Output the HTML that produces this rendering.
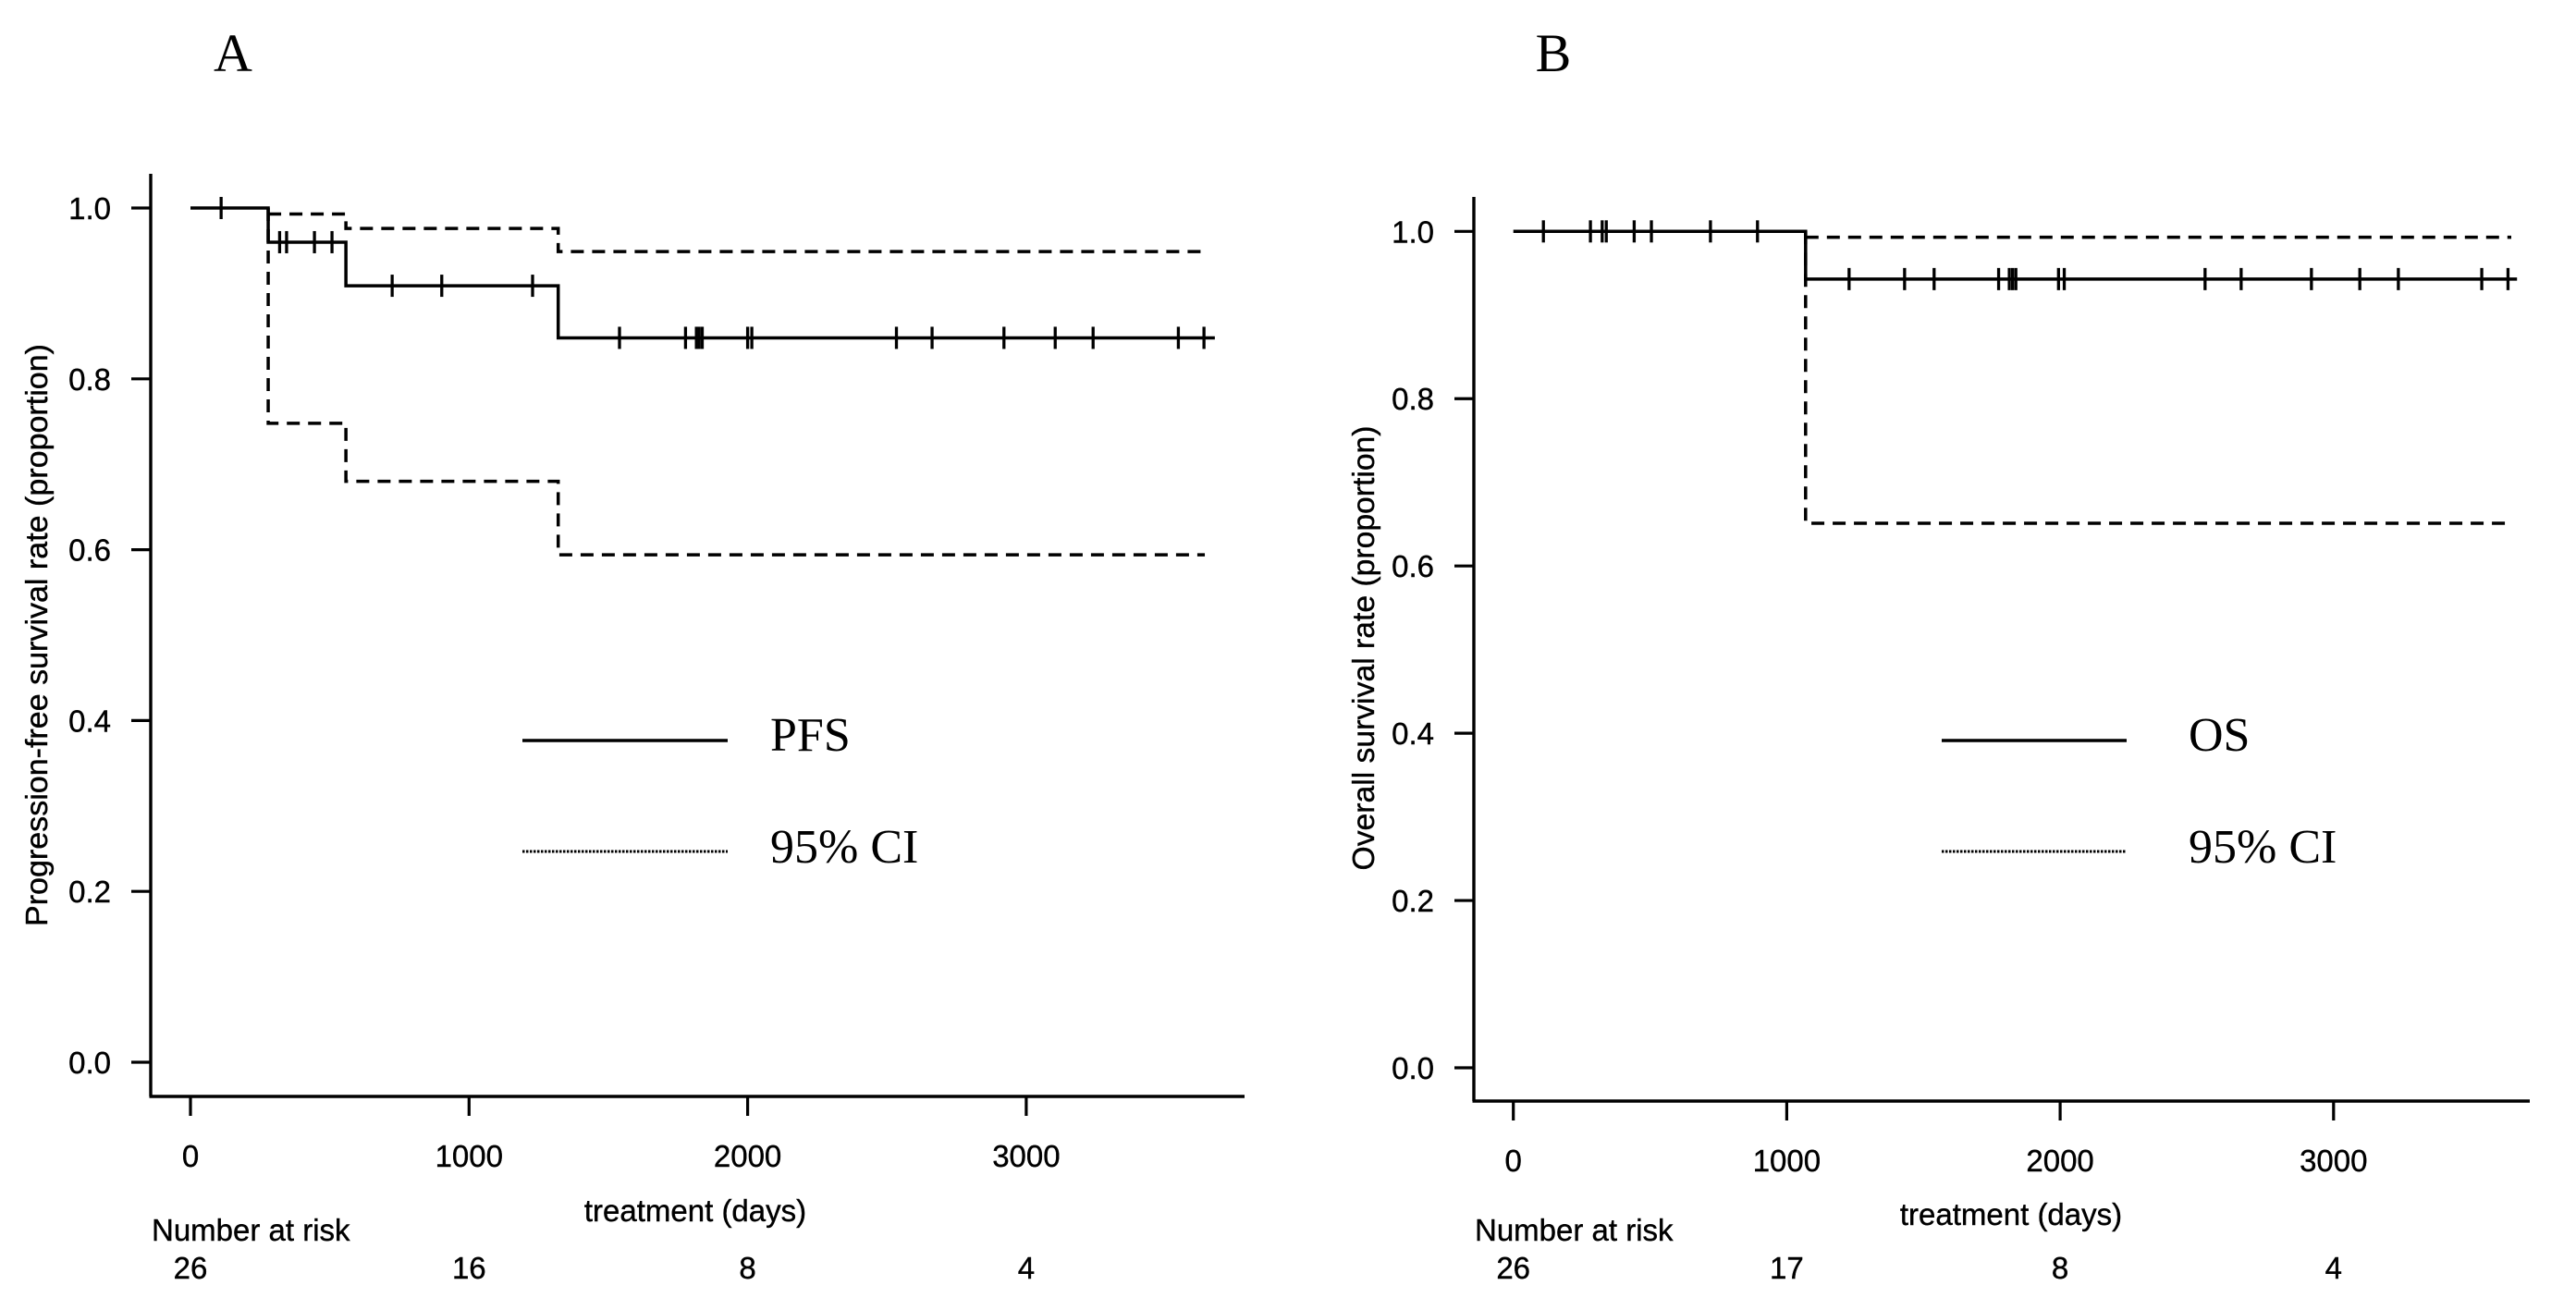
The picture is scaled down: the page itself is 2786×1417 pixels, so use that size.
<!DOCTYPE html>
<html><head><meta charset="utf-8"><style>
html,body{margin:0;padding:0;background:#fff;}
svg{display:block;}
.t{font-family:"Liberation Sans",sans-serif;font-size:33px;fill:#000;stroke:#000;stroke-width:0.4px;}
.s{font-family:"Liberation Serif",serif;fill:#000;}
</style></head><body>
<svg id="fig" width="2786" height="1417" viewBox="0 0 2786 1417" xmlns="http://www.w3.org/2000/svg">
<g id="pa"></g>
<g id="pb"></g>
</svg>
<script>
// Panel A (PFS) data
const aSteps = [0, 279, 558, 1320];
const aSurv = [1.0, 0.96, 0.909, 0.848];
const aUpper = [0.993, 0.976, 0.949];
const aLower = [0.748, 0.680, 0.594];
const aCensor = [110, 320, 345, 445, 508, 724, 902, 1228, 1540, 1777, 1816, 1826, 1837, 2000, 2015, 2534, 2662, 2920, 3104, 3240, 3546, 3638];
const aEnd = 3677;
const aRisk = ["26", "16", "8", "4"];
// Panel B (OS) data
const bSteps = [0, 1069];
const bSurv = [1.0, 0.943];
const bUpper = [0.993];
const bLower = [0.651];
const bCensor = [110, 282, 325, 340, 442, 505, 721, 893, 1228, 1431, 1539, 1775, 1814, 1826, 1838, 1994, 2015, 2530, 2662, 2919, 3096, 3237, 3542, 3638];
const bEnd = 3671;
const bRisk = ["26", "17", "8", "4"];
const xTicks = [0, 1000, 2000, 3000];
const yTicks = [0, 0.2, 0.4, 0.6, 0.8, 1.0];

const NS = "http://www.w3.org/2000/svg";
function mk(parent, tag, attrs, txt) {
  const e = document.createElementNS(NS, tag);
  for (const k in attrs) e.setAttribute(k, attrs[k]);
  if (txt !== undefined) e.textContent = txt;
  parent.appendChild(e);
  return e;
}

function panel(g, cfg) {
  const X = d => cfg.x0 + d * cfg.xs;
  const Y = v => cfg.y0 - v * cfg.ys;
  let e = mk(g, "line", {x1: cfg.ax, y1: cfg.atop, x2: cfg.ax, y2: cfg.ay, stroke: "#000", "stroke-width": 3.4});
  
  
  e = mk(g, "line", {x1: cfg.ax - 1.5, y1: cfg.ay, x2: cfg.aright, y2: cfg.ay, stroke: "#000", "stroke-width": 3.4});
  
  
  yTicks.forEach(v => {
    let t = mk(g, "line", {x1: cfg.ax - 21, y1: Y(v), x2: cfg.ax, y2: Y(v), stroke: "#000", "stroke-width": 3.2});
    
    
    t = mk(g, "text", {class: "t", x: cfg.ax - 43, y: Y(v) + 12, "text-anchor": "end"}, v.toFixed(1));
    
    
  });
  xTicks.forEach((d, i) => {
    let t = mk(g, "line", {x1: X(d), y1: cfg.ay, x2: X(d), y2: cfg.ay + 21, stroke: "#000", "stroke-width": 3.2});
    
    
    t = mk(g, "text", {class: "t", x: X(d), y: cfg.ay + 76, "text-anchor": "middle"}, String(d));
    
    
    t = mk(g, "text", {class: "t", x: X(d), y: 1383, "text-anchor": "middle"}, cfg.risk[i]);
    
    
  });
  e = mk(g, "text", {class: "t", x: cfg.ax + 1, y: 1342}, "Number at risk");
  
  
  e = mk(g, "text", {class: "t", x: cfg.xlabX, y: cfg.xlabY, "text-anchor": "middle"}, "treatment (days)");
  
  
  e = mk(g, "text", {class: "t", x: 0, y: 0, "text-anchor": "middle", transform: "translate(" + cfg.ylabX + "," + cfg.ylabY + ") rotate(-90)", textLength: cfg.ylabLen, lengthAdjust: "spacingAndGlyphs"}, cfg.ylab);
  
  
  e = mk(g, "text", {class: "s", x: cfg.letterX, y: 77, "font-size": 58, "text-anchor": "middle"}, cfg.letter);
  
  

  const st = cfg.steps, sv = cfg.surv;
  let d = "M" + X(st[0]) + "," + Y(sv[0]);
  for (let i = 1; i < st.length; i++) d += " H" + X(st[i]) + " V" + Y(sv[i]);
  d += " H" + X(cfg.end);
  e = mk(g, "path", {d: d, fill: "none", stroke: "#000", "stroke-width": 3.5});
  
  
  [[cfg.upper, 'ci-upper'], [cfg.lower, 'ci-lower']].forEach(([arr, nm]) => {
    let p = "M" + X(st[1]) + "," + Y(1.0) + " V" + Y(arr[0]);
    if (nm === 'ci-upper') p = "M" + X(st[1]) + "," + Y(arr[0]);
    for (let i = 1; i < arr.length; i++) p += " H" + X(st[i + 1]) + " V" + Y(arr[i]);
    p += " H" + X(cfg.ciEnd);
    const c = mk(g, "path", {d: p, fill: "none", stroke: "#000", "stroke-width": 3.5, "stroke-dasharray": "14,9"});
    
    
  });
  cfg.censor.forEach(t => {
    let v = sv[0];
    for (let i = 0; i < st.length; i++) if (t >= st[i]) v = sv[i];
    const c = mk(g, "line", {x1: X(t), y1: Y(v) - 12, x2: X(t), y2: Y(v) + 12, stroke: "#000", "stroke-width": 3.3});
    
    
  });
  const lg = mk(g, "g", {});
  
  
  e = mk(lg, "line", {x1: cfg.lx1, y1: 801, x2: cfg.lx2, y2: 801, stroke: "#000", "stroke-width": 3.5});
  
  
  e = mk(lg, "line", {x1: cfg.lx1, y1: 921, x2: cfg.lx2, y2: 921, stroke: "#000", "stroke-width": 3, "stroke-dasharray": "2.5,1.5"});
  
  
  e = mk(lg, "text", {class: "s", x: cfg.ltx, y: 812, "font-size": 52}, cfg.lname);
  
  
  e = mk(lg, "text", {class: "s", x: cfg.ltx, y: 933, "font-size": 52}, "95% CI");
  
  
}

panel(document.getElementById("pa"), {
  x0: 206, xs: 0.3013, y0: 1149, ys: 924, ax: 163, atop: 188, ay: 1186, aright: 1346,
  steps: aSteps, surv: aSurv, upper: aUpper, lower: aLower, censor: aCensor, end: aEnd, ciEnd: 3641,
  risk: aRisk, xlabX: 752, xlabY: 1321, ylab: "Progression-free survival rate (proportion)",
  ylabX: 51, ylabY: 687, ylabLen: 630, letter: "A", letterX: 252,
  lx1: 565, lx2: 787, ltx: 833, lname: "PFS"
});
panel(document.getElementById("pb"), {
  x0: 1636.7, xs: 0.2957, y0: 1155, ys: 904.7, ax: 1594, atop: 213, ay: 1191, aright: 2736,
  steps: bSteps, surv: bSurv, upper: bUpper, lower: bLower, censor: bCensor, end: bEnd, ciEnd: 3650,
  risk: bRisk, xlabX: 2175, xlabY: 1325, ylab: "Overall survival rate (proportion)",
  ylabX: 1486, ylabY: 701, ylabLen: 481, letter: "B", letterX: 1680,
  lx1: 2100, lx2: 2300, ltx: 2367, lname: "OS"
});
</script>
</body></html>
